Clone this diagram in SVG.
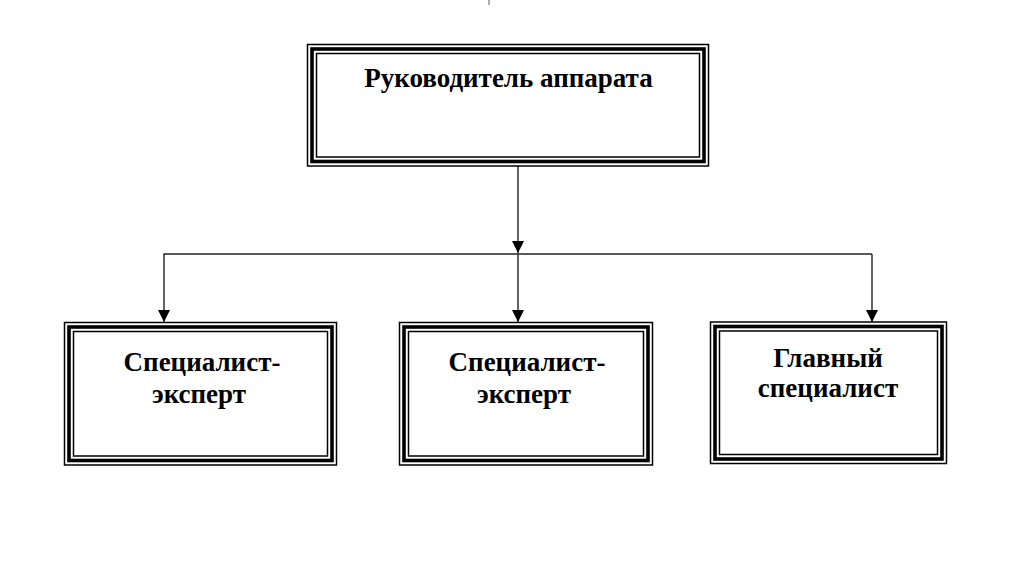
<svg xmlns="http://www.w3.org/2000/svg" width="1024" height="567" viewBox="0 0 1024 567">
  <style>
    .o { fill: none; stroke: #000; stroke-width: 1.5; }
    .m { fill: none; stroke: #000; stroke-width: 3.6; }
    .i { fill: none; stroke: #000; stroke-width: 1.5; }
    .t { font-family: "Liberation Serif", "Times New Roman", serif; font-weight: bold; font-size: 27px; fill: #000; text-anchor: middle; }
    .c { fill: none; stroke: #222; stroke-width: 1.4; }
  </style>
  <defs>
    <marker id="arr" viewBox="0 0 12 12" markerWidth="12" markerHeight="12" refX="12" refY="6" orient="auto" markerUnits="userSpaceOnUse">
      <path d="M0,0 L12,6 L0,12 Z" fill="#000"/>
    </marker>
  </defs>
  <rect width="1024" height="567" fill="#fff"/>
  <line x1="489" y1="0" x2="489" y2="5" stroke="#777" stroke-width="1.2"/>

  <g id="connectors">
    <line class="c" x1="518" y1="166" x2="518" y2="253" marker-end="url(#arr)"/>
    <line class="c" x1="163.5" y1="254" x2="872" y2="254"/>
    <line class="c" x1="164" y1="254" x2="164" y2="322" marker-end="url(#arr)"/>
    <line class="c" x1="518" y1="254" x2="518" y2="322" marker-end="url(#arr)"/>
    <line class="c" x1="872" y1="254" x2="872" y2="322" marker-end="url(#arr)"/>
  </g>

  <g id="head">
    <rect class="o" x="307.5" y="44.5" width="401" height="121.5"/>
    <rect class="m" x="312" y="49" width="392" height="112.5"/>
    <rect class="i" x="316.5" y="53.5" width="383" height="103.5"/>
    <text class="t" x="508.5" y="87">Руководитель аппарата</text>
  </g>

  <g id="expert1">
    <rect class="o" x="64.5" y="322.5" width="272" height="142.5"/>
    <rect class="m" x="69" y="327" width="263" height="133.5"/>
    <rect class="i" x="73.5" y="331.5" width="254" height="124.5"/>
    <text class="t" x="202" y="371">Специалист-</text>
    <text class="t" x="199" y="403">эксперт</text>
  </g>

  <g id="expert2">
    <rect class="o" x="399.5" y="322.5" width="253" height="142.5"/>
    <rect class="m" x="404" y="327" width="244" height="133.5"/>
    <rect class="i" x="408.5" y="331.5" width="235" height="124.5"/>
    <text class="t" x="527" y="371">Специалист-</text>
    <text class="t" x="524" y="403">эксперт</text>
  </g>

  <g id="chief">
    <rect class="o" x="710.5" y="322" width="236" height="141.5"/>
    <rect class="m" x="715" y="326.5" width="227" height="132.5"/>
    <rect class="i" x="719.5" y="331" width="218" height="123.5"/>
    <text class="t" x="828" y="367">Главный</text>
    <text class="t" x="828" y="397">специалист</text>
  </g>
</svg>
